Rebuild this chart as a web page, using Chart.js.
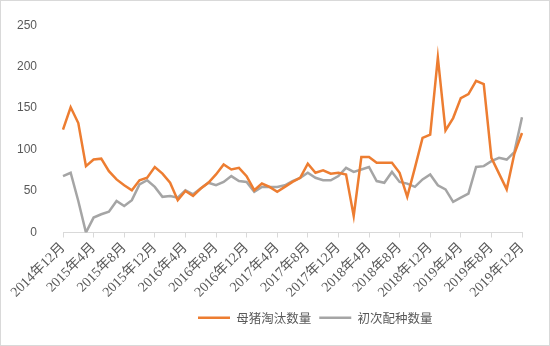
<!DOCTYPE html>
<html>
<head>
<meta charset="utf-8">
<script src="https://cdn.jsdelivr.net/npm/chart.js@4"></script>
<style>
  html, body { margin: 0; padding: 0; background: #ffffff; }
  #wrap { width: 550px; height: 346px; position: relative; }
</style>
</head>
<body>
<div id="wrap"><canvas id="c" width="550" height="346"></canvas></div>
<script>
// Categories (months)
const months = [
  "2014年12月",
  "2015年1月","2015年2月","2015年3月","2015年4月","2015年5月","2015年6月","2015年7月","2015年8月","2015年9月","2015年10月","2015年11月","2015年12月",
  "2016年1月","2016年2月","2016年3月","2016年4月","2016年5月","2016年6月","2016年7月","2016年8月","2016年9月","2016年10月","2016年11月","2016年12月",
  "2017年1月","2017年2月","2017年3月","2017年4月","2017年5月","2017年6月","2017年7月","2017年8月","2017年9月","2017年10月","2017年11月","2017年12月",
  "2018年1月","2018年2月","2018年3月","2018年4月","2018年5月","2018年6月","2018年7月","2018年8月","2018年9月","2018年10月","2018年11月","2018年12月",
  "2019年1月","2019年2月","2019年3月","2019年4月","2019年5月","2019年6月","2019年7月","2019年8月","2019年9月","2019年10月","2019年11月","2019年12月"
];

// Tick labels shown on the x axis
const xTickLabels = [
  "2014年12月","2015年4月","2015年8月","2015年12月","2016年4月","2016年8月","2016年12月","2017年4月",
  "2017年8月","2017年12月","2018年4月","2018年8月","2018年12月","2019年4月","2019年8月","2019年12月"
];

// Series: 母猪淘汰数量
const sowCulling = [
  124, 151, 132, 80, 88, 89, 74, 64, 57, 51, 63, 66, 79,
  71, 60, 39, 50, 44, 53, 60, 70, 82, 76, 78, 68,
  51, 59, 55, 49, 55, 61, 66, 83, 72, 75, 71, 72,
  70, 20, 91, 91, 84, 84, 84, 72, 43, 78, 114, 118,
  211, 123, 138, 162, 167, 183, 179, 90, 71, 52, 95, 120
];

// Series: 初次配种数量
const firstBreeding = [
  68, 72, 38, 0, 18, 22, 25, 38, 32, 39, 58, 63, 55,
  43, 44, 42, 51, 46, 53, 60, 57, 61, 68, 62, 61,
  49, 55, 55, 55, 57, 62, 66, 72, 66, 63, 63, 68,
  78, 73, 76, 79, 62, 60, 73, 61, 59, 55, 64, 70,
  57, 52, 37, 42, 47, 79, 80, 86, 90, 88, 97, 139
];

// Y axis ticks
const yTicks = [0, 50, 100, 150, 200, 250];

const seriesNames = ["母猪淘汰数量", "初次配种数量"];
const seriesColors = ["#ED7D31", "#A5A5A5"];

const legendShift = {
  id: 'legendShift',
  afterLayout(chart) {
    const lg = chart.legend;
    if (!lg || !lg.lineWidths) return;
    const pad = lg.options.labels.padding;
    const start = (lg.left + pad + lg.right - lg.lineWidths[0]) / 2;
    const dx = 198 - start;
    lg.left += dx;
    lg.right += dx;
  }
};

const frame = {
  id: 'frame',
  afterDraw(chart) {
    const ctx = chart.ctx;
    ctx.save();
    ctx.strokeStyle = '#d9d9d9';
    ctx.lineWidth = 1;
    ctx.strokeRect(0.5, 0.5, chart.width - 1, chart.height - 1);
    ctx.restore();
  }
};

new Chart(document.getElementById('c'), {
  type: 'line',
  data: {
    labels: months,
    datasets: [
      {
        label: seriesNames[0],
        data: sowCulling,
        borderColor: seriesColors[0],
        backgroundColor: seriesColors[0],
        borderWidth: 2.5,
        pointRadius: 0,
        tension: 0,
        fill: false
      },
      {
        label: seriesNames[1],
        data: firstBreeding,
        borderColor: seriesColors[1],
        backgroundColor: seriesColors[1],
        borderWidth: 2.5,
        pointRadius: 0,
        tension: 0,
        fill: false
      }
    ]
  },
  options: {
    responsive: false,
    animation: false,
    devicePixelRatio: 1,
    layout: { padding: { left: 0, right: 28, top: 18, bottom: 12 } },
    plugins: {
      legend: {
        position: 'bottom',
        labels: {
          usePointStyle: true,
          pointStyle: 'line',
          pointStyleWidth: 32,
          padding: 8,
          color: '#595959',
          font: { family: '"Noto Sans CJK SC", sans-serif', size: 12.5 }
        }
      },
      tooltip: { enabled: false }
    },
    scales: {
      x: {
        offset: false,
        grid: {
          display: true,
          drawOnChartArea: false,
          drawTicks: true,
          tickLength: 5,
          color: '#d9d9d9'
        },
        border: { display: true, color: '#d9d9d9', width: 1 },
        ticks: {
          autoSkip: false,
          minRotation: 45,
          maxRotation: 45,
          padding: 2,
          color: '#595959',
          font: { family: '"Liberation Serif", "Noto Sans CJK SC", serif', size: 14 },
          callback: function(value, index) {
            const lab = months[index];
            return xTickLabels.includes(lab) ? lab : null;
          }
        },
        afterFit: function(scale) { scale.height = 71; }
      },
      y: {
        min: 0,
        max: 250,
        grid: { display: false },
        border: { display: false },
        afterBuildTicks: function(scale) {
          scale.ticks = yTicks.map(v => ({ value: v }));
        },
        ticks: {
          padding: 18,
          color: '#595959',
          font: { family: '"Liberation Sans", Arial, sans-serif', size: 12 }
        },
        afterFit: function(scale) { scale.width = 63; }
      }
    }
  },
  plugins: [legendShift, frame]
});
</script>
</body>
</html>
